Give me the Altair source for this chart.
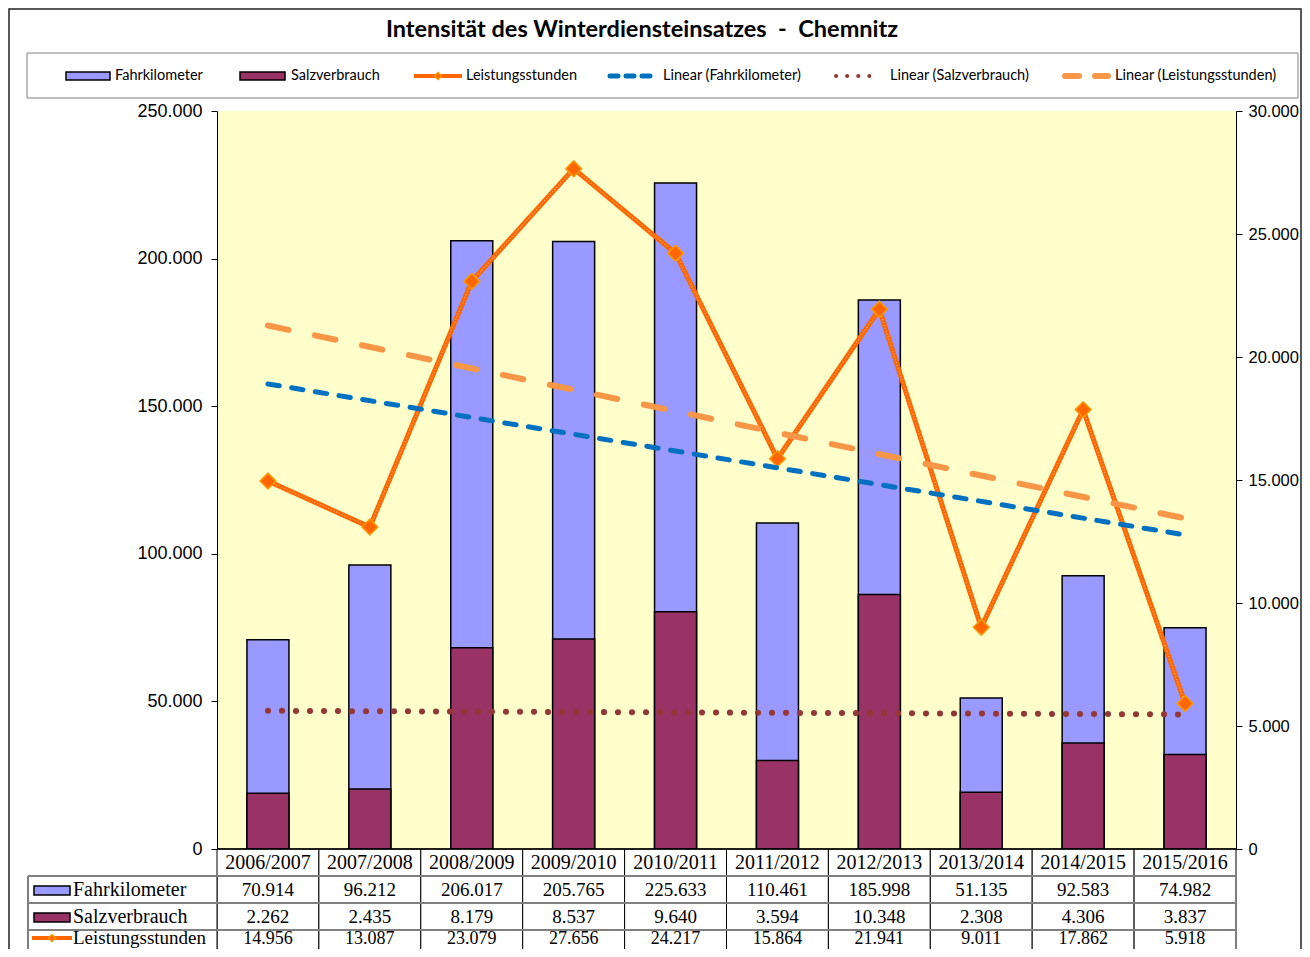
import json
import altair as alt
import pandas as pd

# ---------------- data ----------------
seasons = ["2006/2007", "2007/2008", "2008/2009", "2009/2010", "2010/2011",
           "2011/2012", "2012/2013", "2013/2014", "2014/2015", "2015/2016"]
fahrkilometer = [70914, 96212, 206017, 205765, 225633, 110461, 185998, 51135, 92583, 74982]
salzverbrauch = [2262, 2435, 8179, 8537, 9640, 3594, 10348, 2308, 4306, 3837]
leistungsstunden = [14956, 13087, 23079, 27656, 24217, 15864, 21941, 9011, 17862, 5918]
left_ticks = [0, 50000, 100000, 150000, 200000, 250000]
right_ticks = [0, 5000, 10000, 15000, 20000, 25000, 30000]
title_text = "Intensität des Winterdiensteinsatzes\u00a0\u00a0-\u00a0\u00a0Chemnitz"
series_names = ["Fahrkilometer", "Salzverbrauch", "Leistungsstunden"]
trend_names = ["Linear (Fahrkilometer)", "Linear (Salzverbrauch)", "Linear (Leistungsstunden)"]


def de(v):
    return f"{v:,}".replace(",", ".")


df = pd.DataFrame({
    "season": seasons,
    "idx": list(range(len(seasons))),
    "fk": fahrkilometer,
    "salz": salzverbrauch,
    "ls": leistungsstunden,
    "fk_txt": [de(v) for v in fahrkilometer],
    "salz_txt": [de(v) for v in salzverbrauch],
    "ls_txt": [de(v) for v in leistungsstunden],
})
one = pd.DataFrame({"k": [0]})

# ---------------- style ----------------
W, H = 1019, 738
C_FK, C_SALZ, C_LS = "#9999FF", "#993366", "#FF6600"
C_LS_EDGE, C_LS_TEX = "#FF9900", "#FFB070"
C_FK_TR, C_SALZ_TR, C_LS_TR = "#0070C0", "#953735", "#F79646"
BG = "#FFFFCC"
SERIF = "Liberation Serif"
SANS = "Liberation Sans"
LEG_FONT = "Lato"
LEG_SIZE = 14.5

label_expr = "replace(format(datum.value, ','), ',', '.')"
axis_common = dict(title=None, grid=False, labelExpr=label_expr, labelFont=SANS,
                   labelColor="black", domainColor="black",
                   domainWidth=1, tickColor="black", tickWidth=1, tickSize=6,
                   labelFlush=False)
axis_left = alt.Axis(orient="left", values=left_ticks, labelPadding=9, labelFontSize=18,
                     **axis_common)
axis_right = alt.Axis(orient="right", values=right_ticks, labelPadding=6, labelFontSize=16.5,
                      **axis_common)

xenc = alt.X("season:N", scale=alt.Scale(domain=seasons, paddingInner=0, paddingOuter=0), axis=None)
sc_left = alt.Scale(domain=[0, 250000], nice=False, zero=True)
sc_right = alt.Scale(domain=[0, 30000], nice=False, zero=True)
idx_to_season = json.dumps(seasons) + "[round(datum.idx)]"


def trend(field, scale, **mk):
    return (alt.Chart(df)
            .transform_regression("idx", field)
            .transform_calculate(season=idx_to_season)
            .mark_line(strokeCap="round", **mk)
            .encode(x=xenc, y=alt.Y(f"{field}:Q", scale=scale, axis=None)))


# ---------------- helpers for frame, legend, table ----------------
def rule(x1, x2, y1, y2, color, width, dash=None, cap="butt"):
    mk = dict(color=color, strokeWidth=width, strokeCap=cap)
    if dash:
        mk["strokeDash"] = dash
    return alt.Chart(one).mark_rule(**mk).encode(
        x=alt.value(x1), x2=alt.value(x2), y=alt.value(y1), y2=alt.value(y2))


def box(x1, x2, y1, y2, fill, stroke, sw):
    return alt.Chart(one).mark_rect(fill=fill, stroke=stroke, strokeWidth=sw).encode(
        x=alt.value(x1), x2=alt.value(x2), y=alt.value(y1), y2=alt.value(y2))


def label(x, y, text, font, size, weight="normal", align="left", color="black",
          baseline="middle"):
    return alt.Chart(one).mark_text(font=font, fontSize=size, fontWeight=weight,
                                    align=align, baseline=baseline, color=color).encode(
        x=alt.value(x), y=alt.value(y), text=alt.value(text))


def diamond(x, y, size):
    return alt.Chart(one).mark_point(shape="diamond", filled=True, fill=C_LS,
                                     stroke=C_LS_EDGE, strokeWidth=1.5, opacity=1,
                                     size=size).encode(x=alt.value(x), y=alt.value(y))


layers = []

# outer frame + title
layers.append(box(-208, 1084, -102, 860, "transparent", "#222222", 1.5))
layers.append(label(425, -81, title_text, LEG_FONT, 23.5, weight="bold", align="center"))

# legend
LY = -35
layers.append(box(-190, 1081, -58, -13, "white", "#808080", 1))
layers.append(box(-151, -107, -39, -31, C_FK, "black", 1.5))
layers.append(label(-102, LY, series_names[0], LEG_FONT, LEG_SIZE))
layers.append(box(23, 68, -39, -31, C_SALZ, "black", 1.5))
layers.append(label(74, LY, series_names[1], LEG_FONT, LEG_SIZE))
layers.append(rule(197, 245, LY, LY, C_LS, 4))
layers.append(diamond(221, LY, 50))
layers.append(label(249, LY, series_names[2], LEG_FONT, LEG_SIZE))
layers.append(rule(393, 438, LY, LY, C_FK_TR, 5, dash=[8, 8], cap="round"))
layers.append(label(446, LY, trend_names[0], LEG_FONT, LEG_SIZE))
layers.append(rule(619, 663, LY, LY, C_SALZ_TR, 4, dash=[0.1, 11], cap="round"))
layers.append(label(673, LY, trend_names[1], LEG_FONT, LEG_SIZE))
layers.append(rule(848, 891, LY, LY, C_LS_TR, 6, dash=[14, 16], cap="round"))
layers.append(label(898, LY, trend_names[2], LEG_FONT, LEG_SIZE))

# bars
layers.append(alt.Chart(df).mark_bar(size=42, fill=C_FK, stroke="black", strokeWidth=1.5)
              .encode(x=xenc, y=alt.Y("fk:Q", scale=sc_left, axis=axis_left)))
layers.append(alt.Chart(df).mark_bar(size=42, fill=C_SALZ, stroke="black", strokeWidth=1.5)
              .encode(x=xenc, y=alt.Y("salz:Q", scale=sc_right, axis=axis_right)))

# Leistungsstunden line
layers.append(alt.Chart(df).mark_line(color=C_LS, strokeWidth=5)
              .encode(x=xenc, y=alt.Y("ls:Q", scale=sc_right, axis=None)))
layers.append(alt.Chart(df).mark_line(color=C_LS_TEX, strokeWidth=1.3, strokeDash=[1, 2])
              .encode(x=xenc, y=alt.Y("ls:Q", scale=sc_right, axis=None)))
layers.append(alt.Chart(df).mark_point(shape="diamond", filled=True, fill=C_LS, stroke=C_LS_EDGE,
                                       strokeWidth=1.5, opacity=1, size=250)
              .encode(x=xenc, y=alt.Y("ls:Q", scale=sc_right, axis=None)))

# trend lines
layers.append(trend("fk", sc_left, color=C_FK_TR, strokeWidth=5, strokeDash=[11.5, 12.5]))
layers.append(trend("salz", sc_right, color=C_SALZ_TR, strokeWidth=6, strokeDash=[0.1, 13.9]))
layers.append(trend("ls", sc_right, color=C_LS_TR, strokeWidth=6, strokeDash=[21, 27]))

# data table (rows slightly compressed so the last row stays inside the page)
T0, R1, R2, R3, R4 = 738, 765, 792, 819, 846
layers.append(alt.Chart(df).mark_rect(fill="white", stroke="black", strokeWidth=1)
              .encode(x=xenc, y=alt.value(T0), y2=alt.value(870)))
layers.append(box(-189, 0, R1, 870, "white", "black", 1))
for ry in (R1, R2, R3, R4):
    layers.append(rule(-189, W, ry, ry, "#808080", 2))
layers.append(rule(0, W, T0, T0, "black", 1.5))

layers.append(alt.Chart(df).mark_text(font=SERIF, fontSize=20, baseline="middle", color="black")
              .encode(x=xenc, y=alt.value(T0 + 14), text="season:N"))
for ry, fld in ((R1, "fk_txt"), (R2, "salz_txt")):
    layers.append(alt.Chart(df).mark_text(font=SERIF, fontSize=19, baseline="middle", color="black")
                  .encode(x=xenc, y=alt.value(ry + 14), text=f"{fld}:N"))
LAST_BASE = R3 + 14
layers.append(alt.Chart(df).mark_text(font=SERIF, fontSize=18, baseline="alphabetic", color="black")
              .encode(x=xenc, y=alt.value(LAST_BASE), text="ls_txt:N"))

layers.append(box(-183, -147, R1 + 10, R1 + 19, C_FK, "black", 1.5))
layers.append(label(-144, R1 + 14, series_names[0], SERIF, 20))
layers.append(box(-183, -147, R2 + 10, R2 + 19, C_SALZ, "black", 1.5))
layers.append(label(-144, R2 + 14, series_names[1], SERIF, 20))
layers.append(rule(-185, -145, R3 + 8, R3 + 8, C_LS, 4))
layers.append(diamond(-165, R3 + 8, 50))
layers.append(label(-144, LAST_BASE, series_names[2], SERIF, 19, baseline="alphabetic"))

chart = (alt.layer(*layers)
         .resolve_scale(y="independent")
         .properties(width=W, height=H, background="white",
                     padding={"left": 209, "top": 103, "right": 66, "bottom": 100},
                     autosize=alt.AutoSizeParams(type="none"))
         .configure_view(fill=BG, strokeWidth=0))

chart.save("out.html", embed_options={"renderer": "svg", "actions": False})
